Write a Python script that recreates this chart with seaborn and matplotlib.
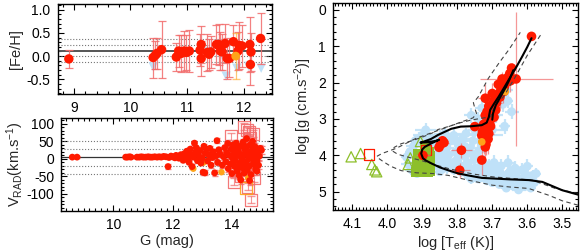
import matplotlib
matplotlib.use("Agg")
import matplotlib.pyplot as plt
import seaborn as sns
from matplotlib.ticker import MultipleLocator

# ---------------- data: [Fe/H] vs G ----------------
fe_g = [8.91, 10.40, 10.44, 10.47, 10.55, 10.81, 10.85, 10.90, 10.95, 10.99, 11.04, 11.23,
        11.25, 11.25, 11.36, 11.39, 11.42, 11.52, 11.56, 11.59, 11.62, 11.67, 11.71, 11.75,
        11.82, 11.90, 11.92, 11.97, 12.11, 12.13, 12.12, 12.30]
fe_h = [-0.06, -0.03, 0.02, 0.06, 0.14, -0.02, 0.11, 0.06, 0.11, 0.08, 0.11, 0.13,
        0.25, -0.05, 0.08, 0.04, 0.09, 0.25, 0.25, 0.11, 0.09, 0.27, -0.05, -0.05,
        0.31, 0.11, 0.23, 0.22, 0.25, 0.09, -0.18, 0.38]
fe_err = [0.19, 0.43, 0.30, 0.33, 0.62, 0.30, 0.35, 0.40, 0.42, 0.38, 0.45, 0.35,
          0.40, 0.38, 0.40, 0.33, 0.35, 0.42, 0.45, 0.40, 0.38, 0.42, 0.45, 0.40,
          0.35, 0.40, 0.50, 0.45, 0.60, 0.40, 0.44, 0.55]
fe_orange_g = [11.86]
fe_orange = [0.00]
fe_orange_err = [0.50]
fe_blue_g = [10.40, 11.38, 11.62, 11.69, 11.88, 12.09, 12.31]
fe_blue = [-0.23, 0.10, 0.02, -0.43, -0.26, -0.22, -0.26]
fe_mean, fe_sig = 0.12, 0.12

# ---------------- data: V_RAD vs G ----------------
rv_g = [8.62, 8.78, 10.42, 10.48, 10.55, 10.60, 10.80, 10.88, 10.95, 11.02, 11.10, 11.18,
        11.25, 11.32, 11.40, 11.48, 11.55, 11.62, 11.70, 11.78, 11.85, 11.88, 11.95, 12.02,
        12.08, 12.12, 12.18, 12.22, 12.28, 12.32, 12.36, 12.40, 12.44, 12.48, 12.52, 12.56,
        12.60, 12.62, 12.66, 12.70, 12.74, 12.77, 12.80, 12.84, 12.88, 12.92, 12.96, 13.00,
        13.03, 13.06, 13.09, 13.10, 13.14, 13.18, 13.22, 13.26, 13.30, 13.34, 13.38, 13.42,
        13.46, 13.50, 13.52, 13.56, 13.60, 13.68, 13.72, 13.76, 13.80, 13.82, 13.86, 13.88,
        13.92, 13.95, 13.98, 14.00, 14.02, 14.05, 14.08, 14.10, 14.12, 14.15, 14.18, 14.20,
        14.22, 14.25, 14.28, 14.30, 14.32, 14.35, 14.38, 14.40, 14.42, 14.45, 14.48, 14.50,
        14.52, 14.55, 14.58, 14.60, 14.62, 14.65, 14.68, 14.70, 14.72, 14.75, 14.78, 14.80,
        14.82, 14.85, 14.88, 14.90, 14.93, 14.96, 15.00, 14.30, 14.60, 14.15, 14.45, 14.70,
        14.05, 14.25, 14.40, 14.55, 14.65, 14.85, 14.35, 14.50, 14.75, 14.20]
rv = [5, 5, 5, 5, 6, 5, 5, 5, 6, 5, 5, 6,
      5, 5, 6, 5, 6, 5, 7, 6, -22, 4, 8, 6,
      3, 10, 7, 2, 12, 6, -4, 15, 8, 22, 0, -10,
      28, 12, -22, 5, 45, 18, 32, -5, 10, 24, -12, 2,
      -38, 36, -40, 16, 28, -6, 12, 30, -18, 4, 20, -40,
      8, 52, -10, 26, 14, -18, 6, 32, -8, 18, 44, -28,
      10, -15, 28, -42, 2, 40, 15, -22, -5, 30, -35, 10,
      22, -48, -12, 36, 5, -25, 48, 12, -40, 25, -8, 58,
      -32, 18, 0, -20, 40, -45, 12, 28, -15, 5, 35, -30,
      15, -5, 22, -18, 8, 30, 25, -60, -62, 45, -20, 50,
      -15, 15, -10, 8, 20, -35, 0, 35, -8, -25]
rv_err = [3, 3, 3, 3, 3, 3, 3, 3, 3, 3, 3, 3,
          3, 3, 3, 3, 3, 3, 4, 4, 6, 4, 4, 4,
          4, 4, 4, 4, 5, 5, 5, 5, 5, 6, 5, 6,
          6, 5, 6, 6, 6, 6, 6, 6, 6, 7, 6, 7,
          7, 7, 7, 7, 7, 7, 7, 7, 7, 8, 8, 8,
          8, 8, 8, 8, 8, 8, 8, 8, 8, 8, 9, 9,
          9, 9, 9, 9, 9, 9, 9, 9, 9, 10, 10, 10,
          10, 10, 10, 10, 10, 10, 10, 10, 10, 10, 10, 11,
          11, 11, 11, 11, 11, 11, 11, 11, 11, 11, 11, 11,
          11, 11, 11, 11, 11, 11, 11, 12, 12, 10, 10, 10,
          10, 10, 10, 10, 10, 10, 10, 10, 10, 10]
rv_orange_g = [12.55, 12.70, 13.05, 13.65, 14.10, 14.55]
rv_orange = [20, -28, -10, -38, -20, -55]
rv_sq_g = [13.97, 14.42, 14.50, 14.59, 14.62, 14.70, 14.08, 14.30, 14.53, 14.76, 14.64, 14.45]
rv_sq = [64, 92, 82, 78, 60, 72, -65, -48, -79, -55, -117, -30]
rv_sq_err = [10, 10, 10, 10, 10, 10, 10, 10, 10, 10, 10, 10]
rv_osq_g = [14.47]
rv_osq = [-84]
rv_mean, rv_sig = 4, 23

# ---------------- data: Kiel diagram ----------------
red_teff = [3.588, 3.645, 3.650, 3.655, 3.648, 3.660, 3.665, 3.670, 3.668, 3.675, 3.680,
            3.678, 3.685, 3.690, 3.688, 3.695, 3.700, 3.698, 3.705, 3.710, 3.702, 3.715,
            3.720, 3.712, 3.708, 3.718, 3.725, 3.722, 3.715, 3.710, 3.728, 3.720, 3.712,
            3.725, 3.718, 3.750, 3.720, 3.730, 3.788, 3.793, 3.842, 3.848, 3.852, 3.838,
            3.898, 3.705, 3.695, 3.720, 3.683, 3.672, 3.700, 3.690, 3.730, 3.705]
red_logg = [0.73, 1.60, 1.75, 1.85, 1.95, 2.00, 2.10, 2.15, 2.25, 2.20, 2.30,
            2.40, 2.35, 2.45, 2.55, 2.50, 2.60, 2.70, 2.75, 2.65, 2.85, 2.80,
            2.90, 3.00, 3.05, 3.10, 3.15, 3.25, 3.30, 3.40, 3.35, 3.50, 3.55,
            3.60, 3.70, 3.21, 3.77, 4.13, 3.86, 4.41, 3.60, 3.70, 3.78, 3.65,
            4.00, 3.20, 2.95, 2.43, 2.05, 1.90, 2.30, 2.75, 3.45, 3.00]
red_terr = [0.005, 0.01, 0.01, 0.01, 0.01, 0.01, 0.01, 0.01, 0.01, 0.01, 0.01,
            0.01, 0.01, 0.01, 0.015, 0.01, 0.015, 0.01, 0.01, 0.015, 0.01, 0.01,
            0.015, 0.01, 0.015, 0.01, 0.015, 0.01, 0.01, 0.015, 0.01, 0.015, 0.01,
            0.015, 0.01, 0.015, 0.01, 0.01, 0.03, 0.03, 0.015, 0.015, 0.015, 0.015,
            0.02, 0.01, 0.01, 0.02, 0.01, 0.01, 0.01, 0.01, 0.01, 0.01]
red_gerr = [0.05, 0.15, 0.2, 0.15, 0.3, 0.2, 0.25, 0.2, 0.3, 0.2, 0.35,
            0.3, 0.45, 0.3, 0.25, 0.3, 0.2, 0.35, 0.3, 0.4, 0.3, 0.35,
            0.3, 0.25, 0.3, 0.35, 0.3, 0.4, 0.3, 0.35, 0.3, 0.3, 0.4,
            0.35, 0.3, 0.1, 0.35, 0.4, 0.2, 0.2, 0.1, 0.1, 0.1, 0.1,
            0.1, 0.3, 0.3, 0.4, 0.2, 0.2, 0.3, 0.3, 0.3, 0.3]
big_teff, big_logg, big_terr, big_gerr = [3.632], [1.90], [0.104], [1.83]
or_teff = [3.730, 3.663]
or_logg = [3.63, 2.25]
blue_teff = [3.945, 3.940, 3.935, 3.930, 3.925, 3.920, 3.915, 3.910, 3.900, 3.890, 3.880, 3.870,
             3.865, 3.860, 3.855, 3.850, 3.845, 3.840, 3.835, 3.830, 3.825, 3.820, 3.815, 3.810,
             3.805, 3.800, 3.795, 3.790, 3.785, 3.780, 3.775, 3.770, 3.765, 3.760, 3.755, 3.750,
             3.745, 3.740, 3.735, 3.730, 3.725, 3.720, 3.715, 3.710, 3.705, 3.700, 3.695, 3.690,
             3.685, 3.680, 3.675, 3.670, 3.665, 3.660, 3.655, 3.650, 3.645, 3.640, 3.635, 3.630,
             3.625, 3.620, 3.615, 3.610, 3.605, 3.600, 3.595, 3.590, 3.585, 3.580, 3.575, 3.770,
             3.760, 3.790, 3.810, 3.830, 3.850, 3.740, 3.700, 3.660, 3.620, 3.750, 3.740, 3.730,
             3.720, 3.710, 3.700, 3.690, 3.680, 3.670, 3.665, 3.660, 3.655, 3.645, 3.760, 3.735,
             3.780, 3.750, 3.720, 3.690, 3.660, 3.630, 3.600, 3.800, 3.770, 3.740, 3.710, 3.680,
             3.650, 3.615, 3.820, 3.840, 3.860, 3.800, 3.780, 3.760]
blue_logg = [4.05, 4.25, 3.90, 4.40, 3.75, 3.60, 4.50, 3.55, 3.45, 3.30, 3.50, 3.60,
             3.85, 4.05, 4.30, 3.50, 3.95, 4.20, 3.40, 3.80, 4.00, 3.60, 4.25, 3.45,
             3.90, 4.10, 3.70, 4.30, 3.55, 4.00, 3.40, 4.20, 3.80, 4.40, 3.60, 4.10,
             4.50, 3.90, 4.30, 4.60, 4.20, 4.45, 4.70, 4.30, 4.55, 4.75, 4.20, 4.45,
             4.65, 4.80, 4.30, 4.55, 4.70, 4.90, 4.20, 4.45, 4.65, 4.85, 4.35, 4.60,
             4.95, 4.75, 4.40, 4.60, 4.85, 4.30, 4.70, 4.90, 4.55, 4.75, 4.50, 4.55,
             4.65, 4.45, 4.40, 4.35, 4.45, 4.65, 4.60, 4.55, 4.85, 3.30, 3.00, 2.70,
             3.45, 2.50, 3.30, 2.90, 2.40, 2.60, 3.20, 2.20, 2.50, 2.80, 2.90, 3.60,
             4.35, 4.35, 4.55, 4.35, 4.75, 4.45, 4.55, 4.25, 4.45, 4.40, 4.45, 4.50,
             4.60, 4.70, 4.20, 4.10, 3.70, 3.60, 3.75, 3.95]
blue_terr = [0.015, 0.02, 0.015, 0.02, 0.02, 0.015, 0.02, 0.02, 0.025, 0.03, 0.02, 0.025,
             0.02, 0.015, 0.02, 0.03, 0.02, 0.015, 0.03, 0.02, 0.015, 0.025, 0.02, 0.03,
             0.02, 0.015, 0.025, 0.02, 0.03, 0.015, 0.035, 0.02, 0.025, 0.02, 0.03, 0.015,
             0.02, 0.025, 0.015, 0.02, 0.02, 0.015, 0.02, 0.02, 0.015, 0.02, 0.025, 0.02,
             0.015, 0.02, 0.02, 0.015, 0.02, 0.015, 0.02, 0.015, 0.02, 0.015, 0.02, 0.015,
             0.02, 0.015, 0.02, 0.015, 0.02, 0.015, 0.02, 0.015, 0.02, 0.015, 0.015, 0.02,
             0.015, 0.02, 0.015, 0.02, 0.015, 0.02, 0.015, 0.02, 0.015, 0.02, 0.015, 0.02,
             0.05, 0.02, 0.045, 0.02, 0.015, 0.02, 0.015, 0.02, 0.015, 0.02, 0.02, 0.02,
             0.015, 0.02, 0.015, 0.02, 0.015, 0.02, 0.015, 0.02, 0.015, 0.02, 0.015, 0.02,
             0.015, 0.02, 0.02, 0.02, 0.03, 0.03, 0.03, 0.02]
blue_gerr = [0.15, 0.2, 0.15, 0.15, 0.2, 0.15, 0.1, 0.2, 0.15, 0.2, 0.15, 0.2,
             0.15, 0.2, 0.15, 0.2, 0.15, 0.2, 0.15, 0.2, 0.15, 0.2, 0.15, 0.2,
             0.15, 0.2, 0.15, 0.2, 0.15, 0.2, 0.15, 0.2, 0.15, 0.2, 0.15, 0.2,
             0.1, 0.2, 0.15, 0.1, 0.2, 0.15, 0.1, 0.2, 0.15, 0.1, 0.2, 0.15,
             0.1, 0.1, 0.2, 0.15, 0.1, 0.1, 0.2, 0.15, 0.1, 0.1, 0.2, 0.15,
             0.1, 0.1, 0.2, 0.15, 0.1, 0.2, 0.15, 0.1, 0.15, 0.1, 0.15, 0.15,
             0.15, 0.15, 0.15, 0.15, 0.1, 0.1, 0.15, 0.15, 0.1, 0.2, 0.2, 0.2,
             0.2, 0.2, 0.2, 0.2, 0.2, 0.2, 0.2, 0.2, 0.2, 0.2, 0.2, 0.2,
             0.15, 0.15, 0.15, 0.15, 0.15, 0.15, 0.15, 0.15, 0.15, 0.15, 0.15, 0.15,
             0.15, 0.15, 0.15, 0.15, 0.2, 0.2, 0.2, 0.2]
green_teff = [3.918, 3.912, 3.906, 3.900, 3.894, 3.888, 3.882, 3.878, 3.916, 3.910, 3.904, 3.898,
              3.892, 3.886, 3.880, 3.917, 3.911, 3.905, 3.899, 3.893, 3.887, 3.881, 3.877, 3.915,
              3.909, 3.903, 3.897, 3.891, 3.885, 3.879, 3.914, 3.907, 3.901, 3.895, 3.889, 3.883,
              3.878, 3.912, 3.884, 3.880, 3.886, 3.892]
green_logg = [4.46, 4.47, 4.46, 4.47, 4.46, 4.47, 4.46, 4.45, 4.36, 4.37, 4.36, 4.37,
              4.36, 4.37, 4.36, 4.26, 4.27, 4.26, 4.27, 4.26, 4.27, 4.26, 4.25, 4.16,
              4.17, 4.15, 4.16, 4.16, 4.15, 4.14, 4.06, 4.07, 4.05, 4.04, 4.03, 4.03,
              4.02, 3.96, 3.92, 3.90, 3.84, 3.76]
gtri_teff = [4.103, 4.076, 4.044, 4.035, 4.030, 3.940, 3.934, 3.905]
gtri_logg = [4.04, 3.95, 4.25, 4.40, 4.45, 4.25, 4.07, 3.62]
rsq_teff = [4.052, 3.889]
rsq_logg = [3.98, 3.86]

iso_teff = [3.455, 3.50, 3.557, 3.596, 3.65, 3.69, 3.73, 3.77, 3.80, 3.826, 3.85, 3.874,
            3.89, 3.898, 3.903, 3.900, 3.893, 3.878, 3.865, 3.852, 3.86, 3.885, 3.905, 3.895,
            3.875, 3.855, 3.835, 3.817, 3.79, 3.76, 3.73, 3.716, 3.710, 3.706, 3.695, 3.682,
            3.665, 3.648, 3.63, 3.615, 3.60, 3.588]
iso_logg = [5.08, 4.96, 4.73, 4.68, 4.66, 4.64, 4.62, 4.55, 4.49, 4.41, 4.33, 4.22,
            4.14, 4.08, 3.95, 3.84, 3.77, 3.69, 3.63, 3.57, 3.60, 3.64, 3.65, 3.62,
            3.55, 3.44, 3.35, 3.27, 3.21, 3.20, 3.17, 3.10, 2.95, 2.75, 2.58, 2.39,
            2.12, 1.84, 1.55, 1.29, 1.02, 0.78]
agb_teff = [3.700, 3.698, 3.690, 3.676, 3.662, 3.650, 3.640]
agb_logg = [3.02, 2.85, 2.62, 2.38, 2.14, 1.90, 1.66]
dA_teff = [3.455, 3.50, 3.538, 3.596, 3.65, 3.70, 3.77, 3.826, 3.87, 3.917, 3.96, 3.99,
           4.01, 4.025, 4.03, 4.015, 3.975, 3.917, 3.85, 3.788, 3.755, 3.745, 3.75, 3.754,
           3.745, 3.74, 3.711, 3.68, 3.653, 3.62]
dA_logg = [5.37, 5.25, 5.10, 4.91, 4.87, 4.82, 4.68, 4.55, 4.50, 4.48, 4.42, 4.30,
           4.18, 4.08, 4.03, 3.95, 3.81, 3.53, 3.30, 3.08, 2.97, 2.85, 2.70, 2.55,
           2.45, 2.39, 1.88, 1.45, 1.10, 0.62]
dB_teff = [3.455, 3.52, 3.586, 3.65, 3.70, 3.75, 3.788, 3.826, 3.86, 3.90, 3.94, 3.97,
           3.985, 3.98, 3.96, 3.93, 3.90, 3.87, 3.855, 3.826, 3.79, 3.76, 3.73, 3.705,
           3.698, 3.685, 3.668, 3.634, 3.60, 3.562]
dB_logg = [5.05, 4.91, 4.68, 4.63, 4.59, 4.52, 4.45, 4.36, 4.27, 4.15, 4.05, 3.97,
           3.88, 3.78, 3.68, 3.60, 3.50, 3.38, 3.29, 3.21, 3.10, 3.03, 2.98, 2.94,
           2.75, 2.55, 2.39, 1.84, 1.25, 0.69]

# ---------------- style ----------------
sns.set_theme(style="ticks")
plt.rcParams["font.family"] = ["Liberation Sans", "DejaVu Sans"]
plt.rcParams["mathtext.fontset"] = "custom"
plt.rcParams["mathtext.rm"] = "Liberation Sans"
plt.rcParams["mathtext.it"] = "Liberation Sans:italic"
plt.rcParams["axes.unicode_minus"] = False

RED = "#ff1a00"
PINK = "#f26b6b"
ORANGE = "#ffa31a"
LBLUE = "#bfe1f8"
GREEN = "#8dbf2a"


def style(ax, xmaj, xmin, ymaj, ymin):
    for s in ax.spines.values():
        s.set_linewidth(1.0)
        s.set_color("black")
    ax.xaxis.set_major_locator(MultipleLocator(xmaj))
    ax.xaxis.set_minor_locator(MultipleLocator(xmin))
    ax.yaxis.set_major_locator(MultipleLocator(ymaj))
    ax.yaxis.set_minor_locator(MultipleLocator(ymin))
    ax.tick_params(which="both", direction="in", top=True, right=True, colors="black",
                   labelsize=10, width=0.8)
    ax.tick_params(which="major", length=4, pad=5)
    ax.tick_params(which="minor", length=2)
    ax.grid(False)


fig = plt.figure(figsize=(5.81, 2.52), dpi=100)
ax1 = fig.add_axes([0.099, 0.626, 0.369, 0.358])
ax2 = fig.add_axes([0.105, 0.164, 0.365, 0.368])
ax3 = fig.add_axes([0.573, 0.167, 0.422, 0.820])

# ---- [Fe/H] panel ----
ax1.axhline(fe_mean, color="#555555", lw=1.4, zorder=1)
for k in (-2, -1, 1, 2):
    ax1.axhline(fe_mean + k * fe_sig, color="#777777", lw=0.8, ls=":", zorder=1)
sns.scatterplot(x=fe_blue_g, y=fe_blue, ax=ax1, marker="v", color=LBLUE, s=45,
                edgecolor="none", zorder=2)
ax1.errorbar(fe_g, fe_h, yerr=fe_err, fmt="none", ecolor=PINK, elinewidth=0.9,
             capsize=3, capthick=0.9, alpha=0.85, zorder=3)
ax1.errorbar(fe_orange_g, fe_orange, yerr=fe_orange_err, fmt="none", ecolor=ORANGE,
             elinewidth=0.9, capsize=3, alpha=0.6, zorder=3)
sns.scatterplot(x=fe_g, y=fe_h, ax=ax1, color=RED, s=46, edgecolor="none", zorder=4)
sns.scatterplot(x=fe_orange_g, y=fe_orange, ax=ax1, color=ORANGE, s=40,
                edgecolor="none", zorder=4)
ax1.set_xlim(8.71, 12.5)
ax1.set_ylim(-0.82, 1.12)
style(ax1, 1, 0.2, 0.5, 0.1)
ax1.yaxis.set_major_formatter(matplotlib.ticker.FormatStrFormatter("%.1f"))
ax1.set_ylabel("[Fe/H]", fontsize=10.5, labelpad=3)

# ---- V_RAD panel ----
ax2.axhline(rv_mean, color="#333333", lw=0.9, zorder=1)
for k in (-2, -1, 1, 2):
    ax2.axhline(rv_mean + k * rv_sig, color="#777777", lw=0.8, ls=":", zorder=1)
ax2.errorbar(rv_sq_g, rv_sq, yerr=rv_sq_err, fmt="none", ecolor=PINK, elinewidth=0.8,
             capsize=3, alpha=0.7, zorder=2)
sns.scatterplot(x=rv_sq_g, y=rv_sq, ax=ax2, marker="s", s=75, facecolor="none",
                edgecolor=PINK, linewidth=0.9, alpha=0.9, zorder=2)
sns.scatterplot(x=rv_osq_g, y=rv_osq, ax=ax2, marker="s", s=75, facecolor="none",
                edgecolor=ORANGE, linewidth=0.9, alpha=0.9, zorder=2)
ax2.errorbar(rv_g, rv, yerr=rv_err, fmt="none", ecolor=PINK, elinewidth=0.8,
             capsize=2.5, alpha=0.8, zorder=3)
sns.scatterplot(x=rv_orange_g, y=rv_orange, ax=ax2, color=ORANGE, s=22,
                edgecolor="none", zorder=3.5)
sns.scatterplot(x=rv_g, y=rv, ax=ax2, color=RED, s=24, edgecolor="none", zorder=4)
ax2.set_xlim(8.24, 15.39)
ax2.set_ylim(-148, 117)
style(ax2, 2, 0.2, 50, 10)
ax2.set_xlabel("G (mag)", fontsize=10.5, labelpad=2)
ax2.set_ylabel(r"V$_{\rm RAD}$(km.s$^{-1}$)", fontsize=10.5, labelpad=0)

# ---- Kiel diagram ----
ax3.errorbar(blue_teff, blue_logg, xerr=blue_terr, yerr=blue_gerr, fmt="none",
             ecolor=LBLUE, elinewidth=1.6, alpha=0.9, zorder=1)
sns.scatterplot(x=blue_teff, y=blue_logg, ax=ax3, color=LBLUE, s=40, edgecolor="none",
                zorder=1)
sns.scatterplot(x=green_teff, y=green_logg, ax=ax3, marker="s", color=GREEN, s=45,
                edgecolor="none", zorder=2)
sns.scatterplot(x=gtri_teff, y=gtri_logg, ax=ax3, marker="^", s=55, facecolor="none",
                edgecolor=GREEN, linewidth=0.9, zorder=2)
sns.scatterplot(x=rsq_teff, y=rsq_logg, ax=ax3, marker="s", s=55, facecolor="none",
                edgecolor=RED, linewidth=0.9, zorder=3)
ax3.errorbar(big_teff, big_logg, xerr=big_terr, yerr=big_gerr, fmt="none", ecolor=PINK,
             elinewidth=0.9, alpha=0.7, zorder=3)
ax3.errorbar(red_teff, red_logg, xerr=red_terr, yerr=red_gerr, fmt="none", ecolor=PINK,
             elinewidth=0.9, alpha=0.7, zorder=3)
sns.scatterplot(x=red_teff + big_teff, y=red_logg + big_logg, ax=ax3, color=RED, s=48,
                edgecolor="none", zorder=4)
sns.scatterplot(x=or_teff, y=or_logg, ax=ax3, color=ORANGE, s=30, edgecolor="none",
                zorder=5)
for tx, gy in ((dA_teff, dA_logg), (dB_teff, dB_logg)):
    sns.lineplot(x=tx, y=gy, ax=ax3, sort=False, estimator=None, color="#444444",
                 lw=0.8, dashes=False, linestyle=(0, (4, 3)), zorder=6)
sns.lineplot(x=iso_teff, y=iso_logg, ax=ax3, sort=False, estimator=None, color="black",
             lw=1.5, zorder=7)
sns.lineplot(x=agb_teff, y=agb_logg, ax=ax3, sort=False, estimator=None, color="black",
             lw=1.5, zorder=7)
ax3.set_xlim(4.155, 3.455)
ax3.set_ylim(5.5, -0.18)
style(ax3, 0.1, 0.01, 1, 0.2)
ax3.set_xlabel(r"log [T$_{\rm eff}$ (K)]", fontsize=10.5, labelpad=2)
ax3.set_ylabel(r"log [g (cm.s$^{-2}$)]", fontsize=10.5, labelpad=3)

fig.savefig("out.png", dpi=100)
